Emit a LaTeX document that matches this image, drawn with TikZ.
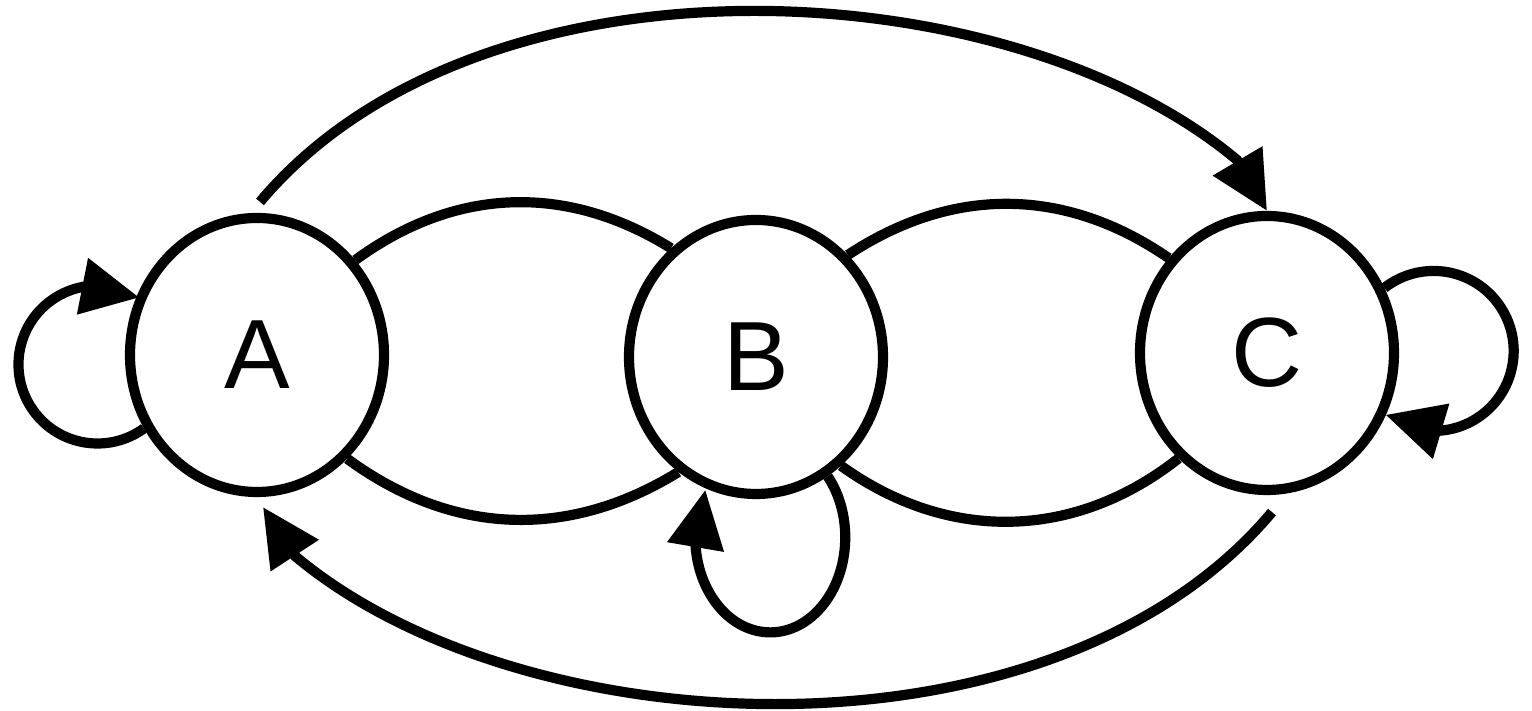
\documentclass[tikz,border=0pt]{standalone}
\usepackage{fontspec}
\setmainfont{Liberation Sans}
\usetikzlibrary{arrows.meta,shapes.geometric,bending}
\begin{document}
\begin{tikzpicture}[
  state/.style={draw, ellipse, line width=2.9pt, fill=white, minimum width=2.54cm, minimum height=2.74cm, inner sep=0pt, font=\fontsize{28}{30}\selectfont},
  edge/.style={line width=2.9pt},
  arr/.style={line width=2.9pt, -{Triangle[length=0.58cm,width=0.55cm,flex]}},
]
\useasboundingbox (0,0) rectangle (15.32,7.11);
\node[state] (A) at (2.57,3.56) {A};
\node[state] (B) at (7.56,3.54) {B};
\node[state] (C) at (12.67,3.58) {C};
\coordinate (k1) at (12.37,5.51);
\coordinate (k2) at (2.95,1.55);
% arcs between neighbours
\draw[edge] (A.44) to[bend left=34] (B.128);
\draw[edge] (A.-49) to[bend right=34] (B.-124);
\draw[edge] (B.48) to[bend left=34] (C.136);
\draw[edge] (B.-52) to[bend right=37] (C.-130);
% long arcs
\draw[arr] ([shift={(0.03,0.11)}]A.north) .. controls +(50:3.4) and +(140:3.0) .. (k1) -- (C.north);
\draw[arr] ([shift={(0.05,-0.17)}]C.south) .. controls +(230:3.4) and +(-40:3.0) .. (k2) -- ([shift={(0.06,-0.1)}]A.south);
% self loops
\draw[arr] (A.213) arc[start angle=-54, end angle=-302, radius=0.79];
\draw[arr] (B.-59) arc[start angle=40, end angle=-210, x radius=0.75, y radius=0.95];
\draw[arr] (C.29) arc[start angle=128, end angle=-127, radius=0.8];
\end{tikzpicture}
\end{document}
